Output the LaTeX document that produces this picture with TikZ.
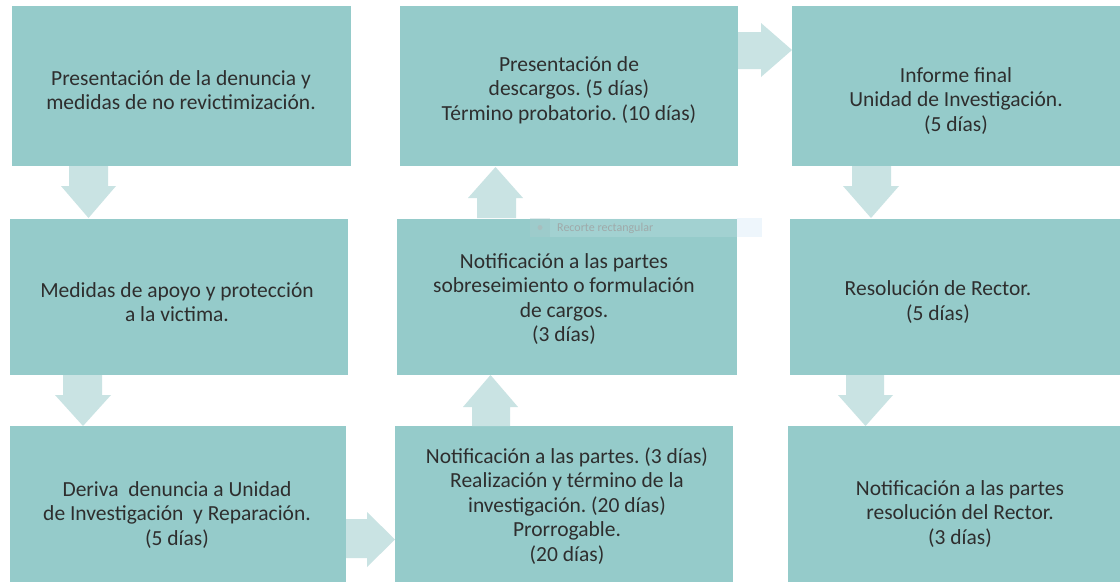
\documentclass[tikz,border=0pt]{standalone}
\usepackage{fontspec}
\setmainfont{Carlito}
\frenchspacing
\definecolor{boxteal}{HTML}{95CBCA}
\definecolor{arrowteal}{HTML}{C9E3E3}
\definecolor{txtgray}{HTML}{2E2E2E}
\definecolor{tipblue}{HTML}{EEF6FC}
\begin{document}
\begin{tikzpicture}[x=1pt,y=-1pt,
  boxfill/.style={fill=boxteal,draw=none},
  boxtext/.style={align=center,text=txtgray,font=\fontsize{21.5}{24.5}\selectfont,inner sep=0pt},
  blockarrow/.style={fill=arrowteal,draw=none}]
\useasboundingbox (0,0) rectangle (1120,582);
\fill[white] (0,0) rectangle (1120,582);
% boxes
\path[boxfill] (12,6) rectangle (351,166);
\path[boxfill] (10,219) rectangle (348,375);
\path[boxfill] (10,426) rectangle (346,582);
\path[boxfill] (400,6) rectangle (738,166);
\path[boxfill] (397,219) rectangle (737,375);
\path[boxfill] (395,426) rectangle (733,582);
\path[boxfill] (792,6) rectangle (1120,166);
\path[boxfill] (790,219) rectangle (1120,375);
\path[boxfill] (788,426) rectangle (1120,582);
% texts
\node[boxtext] (t11) at (181,90) {Presentación de la denuncia y\\medidas de no revictimización.};
\node[boxtext] (t21) at (177,302) {Medidas de apoyo y protección\\a la victima.};
\node[boxtext] (t31) at (177,515) {Deriva~ denuncia a Unidad\\de Investigación~ y Reparación.\\(5 días)};
\node[boxtext] (t12) at (569,90) {Presentación de\\descargos. (5 días)\\Término probatorio. (10 días)};
\node[boxtext] (t22) at (564,299) {Notificación a las partes\\sobreseimiento o formulación\\de cargos.\\(3 días)};
\node[boxtext] (t32) at (567,506) {Notificación a las partes. (3 días)\\Realización y término de la\\investigación. (20 días)\\Prorrogable.\\(20 días)};
\node[boxtext] (t13) at (956,101) {Informe final\\Unidad de Investigación.\\(5 días)};
\node[boxtext] (t23) at (938,302) {Resolución de Rector.\\(5 días)};
\node[boxtext] (t33) at (960,514) {Notificación a las partes\\resolución del Rector.\\(3 días)};
% block arrows: down
\path[blockarrow] (69,166) -- (108,166) -- (108,186) -- (116,186) -- (88.5,218) -- (61,186) -- (69,186) -- cycle;
\path[blockarrow] (63,375) -- (102,375) -- (102,395) -- (111,395) -- (83,426) -- (55,395) -- (63,395) -- cycle;
\path[blockarrow] (852,166) -- (891,166) -- (891,186) -- (899,186) -- (871,218) -- (843,186) -- (852,186) -- cycle;
\path[blockarrow] (846,375) -- (884,375) -- (884,395) -- (893,395) -- (865.5,426) -- (838,395) -- (846,395) -- cycle;
% up
\path[blockarrow] (472,426) -- (510,426) -- (510,407) -- (518,407) -- (490.5,375) -- (463,407) -- (472,407) -- cycle;
\path[blockarrow] (477,218) -- (516,218) -- (516,198) -- (523,198) -- (495.5,167) -- (468,198) -- (477,198) -- cycle;
% right
\path[blockarrow] (346,519) -- (367,519) -- (367,512) -- (395,539.5) -- (367,567) -- (367,558) -- (346,558) -- cycle;
\path[blockarrow] (738,32) -- (761,32) -- (761,23) -- (792,50) -- (761,77) -- (761,69) -- (738,69) -- cycle;
% screenshot tool tooltip
\fill[tipblue,opacity=0.15] (530,218) rectangle (737,237);
\fill[tipblue] (737,218) rectangle (762,237);
\fill[boxteal!80!gray,opacity=0.25] (530,218) rectangle (550,237);
\fill[gray!60,opacity=0.5] (540,227.5) circle (2.5);
\node[anchor=west,inner sep=0pt,text=gray!75,opacity=0.8,font=\fontsize{12}{13}\selectfont] (tip) at (557,228) {Recorte rectangular};
\end{tikzpicture}
\end{document}
